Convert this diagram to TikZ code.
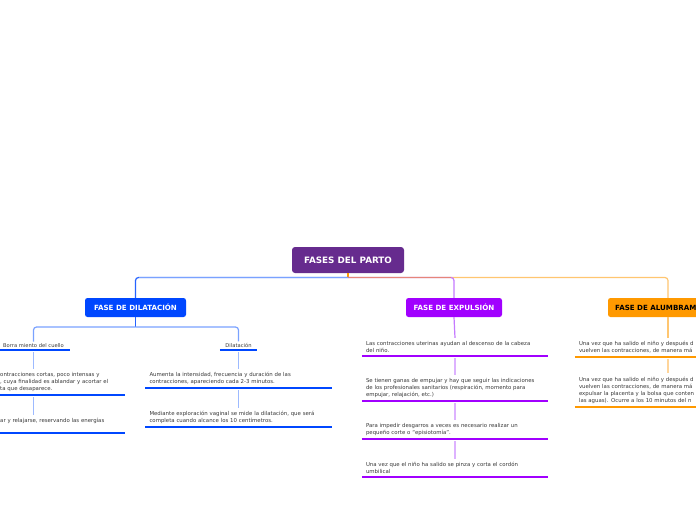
\documentclass[tikz,border=0pt]{standalone}
\usepackage{fontspec}
\setmainfont{DejaVu Sans}
\usetikzlibrary{positioning}
\definecolor{RootPurple}{HTML}{662B8E}
\definecolor{DilBlue}{HTML}{0047FF}
\definecolor{ExpPurple}{HTML}{A100FF}
\definecolor{AluOrange}{HTML}{FF9900}
\definecolor{LinkBlue}{HTML}{7AA2FF}
\definecolor{PaleBlue}{HTML}{9DBAFF}
\definecolor{LinkSalmon}{HTML}{E6857A}
\definecolor{LinkPurple}{HTML}{C57AFF}
\definecolor{PalePurple}{HTML}{DDB2FF}
\definecolor{LinkOrange}{HTML}{FFC670}
\definecolor{PaleOrange}{HTML}{FFD59A}
\definecolor{TextGray}{HTML}{3A3A3A}

\begin{document}
\begin{tikzpicture}[x=1pt,y=-1pt,
  phase/.style={rounded corners=2.5pt,minimum height=19pt,font=\bfseries\fontsize{7.1}{8}\selectfont},
  subtopic/.style={anchor=south,inner xsep=0pt,inner ysep=2pt,text=TextGray,font=\fontsize{5.2}{6}\selectfont},
  leaf/.style={anchor=south,text width=178pt,align=left,inner xsep=4pt,inner ysep=3.2pt,text=TextGray,font=\fontsize{5.4}{7.1}\selectfont},
  link/.style={line width=1.2pt,rounded corners=3pt},
  uline/.style={line width=2.3pt}]
  \fill[white] (0,0) rectangle (696,520);
  \useasboundingbox (0,0) rectangle (696,520);
  \clip (0,0) rectangle (696,520);

  \node[fill=RootPurple,text=white,rounded corners=3pt,minimum width=112pt,minimum height=26pt,font=\bfseries\fontsize{8.8}{10}\selectfont] (root) at (348,260) {FASES DEL PARTO};
  \coordinate (hub) at (348,277.5);

  \node[phase,fill=DilBlue,text=white,minimum width=101pt] (dil) at (135.5,307.5) {FASE DE DILATACIÓN};
  \node[phase,fill=ExpPurple,text=white,minimum width=96pt] (exp) at (454,307.5) {FASE DE EXPULSIÓN};
  \node[phase,fill=AluOrange,text=black,minimum width=120pt] (alu) at (668,307.5) {FASE DE ALUMBRAMIENTO};

  % dilatacion
  \coordinate (dilhub) at (135.5,327);
  \node[subtopic,minimum width=72pt] (bor) at (33.5,350) {Borra miento del cuello};
  \node[subtopic,minimum width=37pt] (dla) at (238.5,350) {Dilatación};
  \node[leaf,anchor=south west,text width=121pt] (c1) at (-4,395)
    {ontracciones cortas, poco intensas y\\, cuya finalidad es ablandar y acortar el\\ta que desaparece.};
  \node[leaf,anchor=south west,text width=121pt] (c2) at (-4,433)
    {ar y relajarse, reservando las energías\\\mbox{}};
  \node[leaf] (d1) at (238.5,388)
    {Aumenta la intensidad, frecuencia y duración de las\\contracciones, apareciendo cada 2-3 minutos.};
  \node[leaf] (d2) at (238.5,427)
    {Mediante exploración vaginal se mide la dilatación, que será\\completa cuando alcance los 10 centímetros.};

  % expulsion
  \node[leaf] (e1) at (455,356)
    {Las contracciones uterinas ayudan al descenso de la cabeza\\del niño.};
  \node[leaf] (e2) at (455,401)
    {Se tienen ganas de empujar y hay que seguir las indicaciones\\de los profesionales sanitarios (respiración, momento para\\empujar, relajación, etc.)};
  \node[leaf] (e3) at (455,439)
    {Para impedir desgarros a veces es necesario realizar un\\pequeño corte o “episiotomía”.};
  \node[leaf] (e4) at (455,477)
    {Una vez que el niño ha salido se pinza y corta el cordón\\umbilical};

  % alumbramiento
  \node[leaf] (a1) at (668,357)
    {Una vez que ha salido el niño y después d\\vuelven las contracciones, de manera má};
  \node[leaf] (a2) at (668,407)
    {Una vez que ha salido el niño y después d\\vuelven las contracciones, de manera má\\expulsar la placenta y la bolsa que conten\\las aguas). Ocurre a los 10 minutos del n};

  % branches from the root
  \draw[link,AluOrange] (root.south) -- (hub);
  \draw[link,LinkOrange] (hub) -| (alu.north);
  \draw[link,LinkPurple] (hub) -| (exp.north);
  \draw[line width=1.2pt,LinkSalmon] (hub) -- ([xshift=-3pt]hub -| exp.north);
  \draw[link,DilBlue!85] (hub) -| (dil.north);
  \draw[line width=1.2pt,LinkBlue] (hub) -- ([xshift=3pt]hub -| dil.north);

  \draw[link,DilBlue!85] (dil.south) -- (dilhub);
  \draw[link,LinkBlue] (dilhub) -| (bor.north);
  \draw[link,LinkBlue] (dilhub) -| (dla.north);
  \draw[link,PaleBlue,shorten <=2pt] (bor.south) -- (bor.south |- c1.north);
  \draw[link,PaleBlue,shorten <=2pt] (bor.south |- c1.south) -- (bor.south |- c2.north);
  \draw[link,PaleBlue,shorten <=2pt] (dla.south) -- (d1.north);
  \draw[link,PaleBlue,shorten <=2pt] (d1.south) -- (d2.north);

  \draw[link,LinkPurple] (exp.south) -- (e1.north);
  \draw[link,PalePurple,shorten <=2pt] (e1.south) -- (e2.north);
  \draw[link,PalePurple,shorten <=2pt] (e2.south) -- (e3.north);
  \draw[link,PalePurple,shorten <=2pt] (e3.south) -- (e4.north);

  \draw[link,LinkOrange] (alu.south) -- (a1.north);
  \draw[link,PaleOrange,shorten <=2pt] (a1.south) -- (a2.north);

  \foreach \n in {bor,dla,c1,c2,d1,d2}
    \draw[uline,DilBlue] (\n.south west) -- (\n.south east);
  \foreach \n in {e1,e2,e3,e4}
    \draw[uline,ExpPurple] (\n.south west) -- (\n.south east);
  \foreach \n in {a1,a2}
    \draw[uline,AluOrange] (\n.south west) -- (\n.south east);
\end{tikzpicture}
\end{document}
